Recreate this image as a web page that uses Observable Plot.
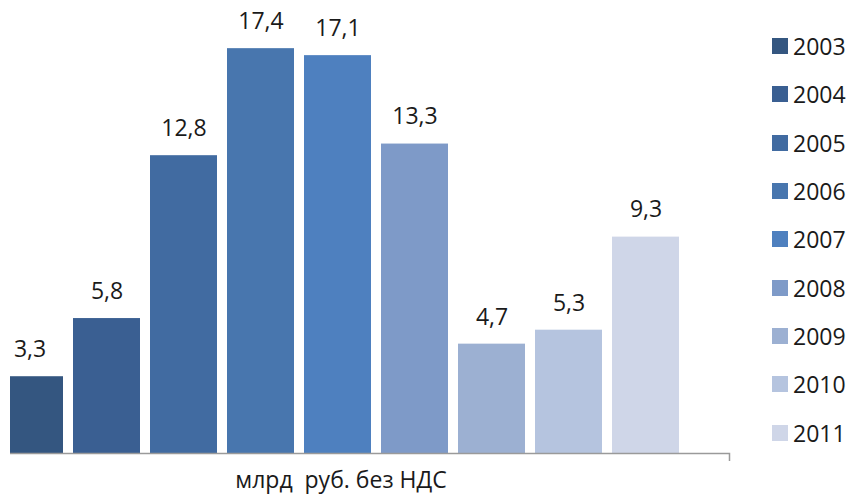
<!DOCTYPE html>
<html>
<head>
<meta charset="utf-8">
<script src="https://cdn.jsdelivr.net/npm/d3@7"></script>
<script src="https://cdn.jsdelivr.net/npm/@observablehq/plot@0.6"></script>
<style>
  html, body { margin: 0; padding: 0; background: #ffffff; }
  #chart { position: relative; width: 850px; height: 499px; overflow: hidden;
           font-family: "Open Sans", Lato, sans-serif; color: #1a1a1a; }
  #legend { position: absolute; left: 772px; top: 22px; }
  .item { display: flex; align-items: center; height: 48.3px; font-size: 23px; }
  .swatch { width: 16px; height: 16px; margin-right: 5px; box-sizing: border-box; }
</style>
</head>
<body>
<div id="chart"></div>
<script>
// Years, values (billion rubles excl. VAT) and palette
const years = ["2003", "2004", "2005", "2006", "2007", "2008", "2009", "2010", "2011"];
const values = [3.3, 5.8, 12.8, 17.4, 17.1, 13.3, 4.7, 5.3, 9.3];
const colors = ["#345680", "#3a5f92", "#416ba1", "#4876ae", "#4e80bf", "#7e9ac8", "#9cb0d2", "#b5c4df", "#cfd6e8"];
const caption = "млрд\u00a0 руб. без НДС";

const data = years.map((year, i) => ({year, value: values[i]}));
const fmt = v => v.toFixed(1).replace(".", ",");

// Baseline with a small tick at the right end of the frame
function baseline(index, scales, values, dimensions) {
  const y0 = scales.y(0);
  const x0 = dimensions.marginLeft;
  const x1 = dimensions.width - dimensions.marginRight;
  const path = document.createElementNS("http://www.w3.org/2000/svg", "path");
  path.setAttribute("d", `M${x0},${y0 + 0.5}H${x1 + 0.5}V${y0 + 8}`);
  path.setAttribute("fill", "none");
  path.setAttribute("stroke", "#9a9a9a");
  path.setAttribute("stroke-width", "1.5");
  return path;
}

const chart = Plot.plot({
  width: 850,
  height: 499,
  marginLeft: 10,
  marginRight: 121,
  marginTop: 0,
  marginBottom: 46,
  style: {fontFamily: '"Open Sans", Lato, sans-serif', fontSize: "23px", background: "transparent", overflow: "visible"},
  x: {domain: years, range: [-16.1, 689.9], padding: 0.133, axis: null},
  y: {domain: [0, 19.47], axis: null},
  color: {domain: years, range: colors},
  marks: [
    Plot.barY(data, {x: "year", y: "value", fill: "year", clip: true}),
    Plot.text(data, {x: "year", y: "value", text: d => fmt(d.value), dy: -27, fill: "#1a1a1a"}),
    baseline,
    Plot.text([caption], {frameAnchor: "bottom", text: d => d, dx: -29, dy: 34, fill: "#1a1a1a"})
  ]
});

const root = document.getElementById("chart");
root.appendChild(chart);

// Vertical legend on the right
const color = chart.scale("color");
const legend = d3.select(root).append("div").attr("id", "legend");
const items = legend.selectAll(".item").data(color.domain).join("div").attr("class", "item");
items.append("div").attr("class", "swatch").style("background", (d, i) => color.range[i]);
items.append("span").text(d => d);
</script>
</body>
</html>
